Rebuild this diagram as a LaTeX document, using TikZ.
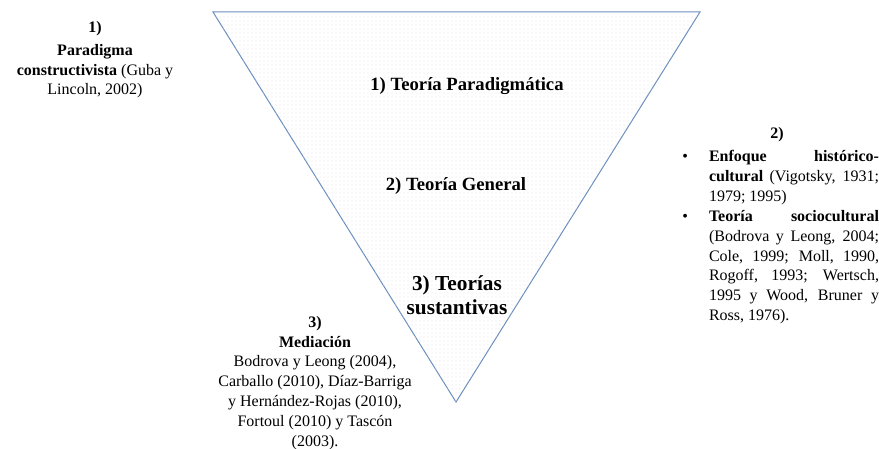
\documentclass[tikz,border=0pt]{standalone}
\usepackage{fontspec}
\setmainfont{Liberation Serif}
\usetikzlibrary{patterns}
\definecolor{edgeblue}{RGB}{106,143,191}
\tikzset{
  heading/.style={ % bold title inside the funnel
    font=\fontsize{14}{17}\selectfont\bfseries, inner sep=0pt, anchor=base
  },
  note/.style={ % text blocks round the funnel
    font=\fontsize{12}{14.85}\selectfont, align=center, inner sep=0pt, anchor=base
  },
  funnel/.style={ % the inverted triangle
    draw=edgeblue, line width=0.75pt, fill=white,
    postaction={pattern=dots, pattern color=red!20!gray!18}
  }
}

\begin{document}
\begin{tikzpicture}[x=0.75pt, y=-0.75pt]
  \useasboundingbox (0,0) rectangle (879,449);
  \coordinate (tl) at (213,12);
  \coordinate (tr) at (700,12);
  \coordinate (tip) at (456,402);
  \draw[funnel] (tl) -- (tr) -- (tip) -- cycle;

  \node[heading] (paradigm) at (467,91) {1) Teoría Paradigmática};
  \node[heading] (general) at (456,191) {2) Teoría General};
  \node[heading, font=\fontsize{16}{18}\selectfont\bfseries, align=center] (sustantive) at (457,315) {3) Teorías\\sustantivas};

  \node[note] (left1) at (95,95) {\textbf{1)}\\[2pt] \textbf{Paradigma}\\ \textbf{constructivista} (Guba y\\ Lincoln, 2002)};
  \node[note] (bottom3) at (315,446) {\textbf{3)}\\ \textbf{Mediación}\\ Bodrova y Leong (2004),\\ Carballo (2010), Díaz-Barriga\\ y Hernández-Rojas (2010),\\ Fortoul (2010) y Tascón\\ (2003).};

  \node[note] (right2) at (777,139) {\textbf{2)}};
  \node[note, align=justify, text width=152.25pt] (right2list) at (777.5,131) {%
    \fontsize{12}{14.85}\selectfont
    \setlength{\leftmargini}{24.75pt}\setlength{\labelsep}{15.75pt}%
    \begin{itemize}\setlength{\itemsep}{-3.5pt}\setlength{\parsep}{0pt}
      \item \textbf{Enfoque histórico-}\linebreak\textbf{cultural} (Vigotsky, 1931;\linebreak 1979; 1995)
      \item \textbf{Teoría sociocultural}\linebreak (Bodrova y Leong, 2004;\linebreak Cole, 1999; Moll, 1990,\linebreak Rogoff, 1993; Wertsch,\linebreak 1995 y Wood, Bruner y\linebreak Ross, 1976).
    \end{itemize}};
\end{tikzpicture}
\end{document}
